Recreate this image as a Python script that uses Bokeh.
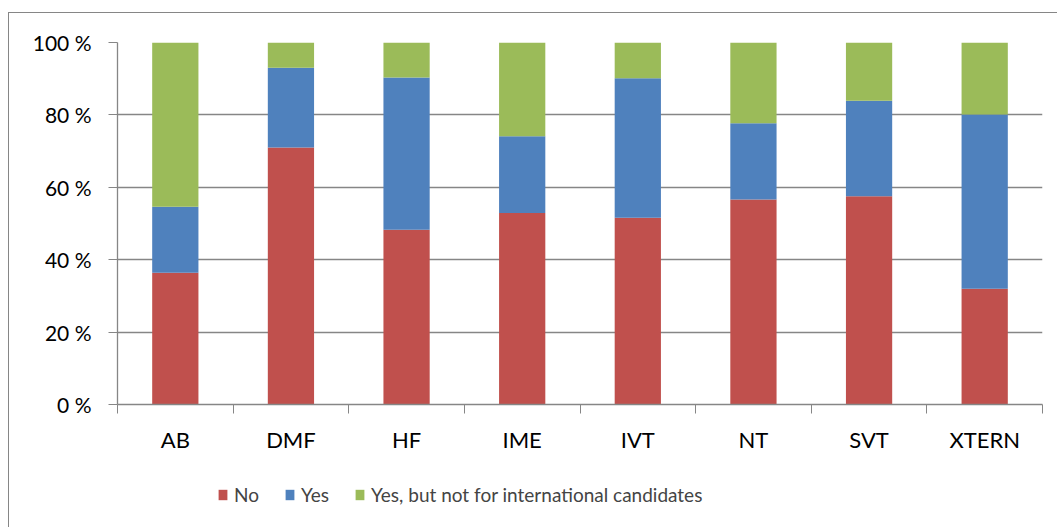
from bokeh.plotting import figure
from bokeh.layouts import column
from bokeh.models import ColumnDataSource, FixedTicker, Legend, LegendItem, Range1d
from bokeh.embed import file_html
from bokeh.resources import INLINE

categories = ["AB", "DMF", "HF", "IME", "IVT", "NT", "SVT", "XTERN"]
no = [36.4, 71.0, 48.3, 52.9, 51.6, 56.6, 57.5, 32.0]
yes = [18.2, 22.0, 42.0, 21.2, 38.5, 21.1, 26.4, 48.1]
yes_not_intl = [45.4, 7.0, 9.7, 25.9, 9.9, 22.3, 16.1, 19.9]
series_names = ["No", "Yes", "Yes, but not for international candidates"]
colors = ["#C0504D", "#4F81BD", "#9BBB59"]
y_ticks = [0, 20, 40, 60, 80, 100]

FONT = "Lato"
GRAY = "#868686"

centers = [i + 0.5 for i in range(len(categories))]
source = ColumnDataSource(dict(x=centers, no=no, yes=yes, yni=yes_not_intl))

p = figure(width=1048, height=451,
           x_range=Range1d(0, len(categories)), y_range=Range1d(0, 100),
           output_backend="svg", toolbar_location=None,
           min_border_left=108, min_border_right=15, min_border_top=29,
           min_border_bottom=60)
p.outline_line_color = None

p.vbar_stack(["no", "yes", "yni"], x="x", width=0.4, color=colors,
             line_color=None, source=source)

# y axis
p.yaxis.ticker = FixedTicker(ticks=y_ticks)
p.yaxis.major_label_overrides = {t: f"{t} %" for t in y_ticks}
p.yaxis.major_label_text_font = FONT
p.yaxis.major_label_text_font_size = "21px"
p.yaxis.major_label_text_color = "#000000"
p.yaxis.major_tick_out = 9
p.yaxis.major_tick_in = 0
p.yaxis.minor_tick_out = 0
p.yaxis.minor_tick_in = 0
p.yaxis.major_label_standoff = 17
p.yaxis.axis_line_color = GRAY
p.yaxis.major_tick_line_color = GRAY
p.yaxis.axis_line_width = 1.3

p.ygrid.ticker = FixedTicker(ticks=y_ticks)
p.ygrid.grid_line_color = GRAY
p.ygrid.grid_line_width = 1.3
p.xgrid.visible = False

# x axis: labels at centers, tick marks at category boundaries
p.xaxis.ticker = FixedTicker(ticks=centers, minor_ticks=list(range(len(categories) + 1)))
p.xaxis.major_label_overrides = {c: cat for c, cat in zip(centers, categories)}
p.xaxis.major_label_text_font = FONT
p.xaxis.major_label_text_font_size = "22px"
p.xaxis.major_label_text_color = "#000000"
p.xaxis.major_tick_out = 0
p.xaxis.major_tick_in = 0
p.xaxis.minor_tick_out = 9
p.xaxis.minor_tick_in = 0
p.xaxis.minor_tick_line_color = GRAY
p.xaxis.major_label_standoff = 12
p.xaxis.axis_line_color = GRAY
p.xaxis.axis_line_width = 1.3

# legend strip: a second figure whose stacked bars lie outside its visible range,
# so only the legend swatches and labels show
leg = figure(width=1048, height=63, x_range=Range1d(0, len(categories)),
             y_range=Range1d(1000, 1001),
             output_backend="svg", toolbar_location=None,
             min_border_left=108, min_border_right=15,
             min_border_top=0, min_border_bottom=0)
leg.axis.visible = False
leg.grid.visible = False
leg.outline_line_color = None
swatches = leg.vbar_stack(["no", "yes", "yni"], x="x", width=0.4, color=colors,
                          line_color=None, source=source)
legend = Legend(items=[LegendItem(label=n, renderers=[r]) for n, r in zip(series_names, swatches)],
                orientation="horizontal", location=(100, 21))
legend.label_text_font = FONT
legend.label_text_font_size = "19px"
legend.glyph_width = 11
legend.glyph_height = 13
legend.label_standoff = 6
legend.spacing = 25
legend.padding = 0
legend.margin = 0
legend.border_line_color = None
legend.background_fill_alpha = 0
leg.add_layout(legend, "center")

layout = column(p, leg, spacing=0)
layout.styles = {"margin-left": "8px", "margin-top": "12px",
                 "border-top": "1px solid " + GRAY,
                 "border-left": "1px solid " + GRAY}

open("out.html", "w").write(file_html(layout, INLINE))
